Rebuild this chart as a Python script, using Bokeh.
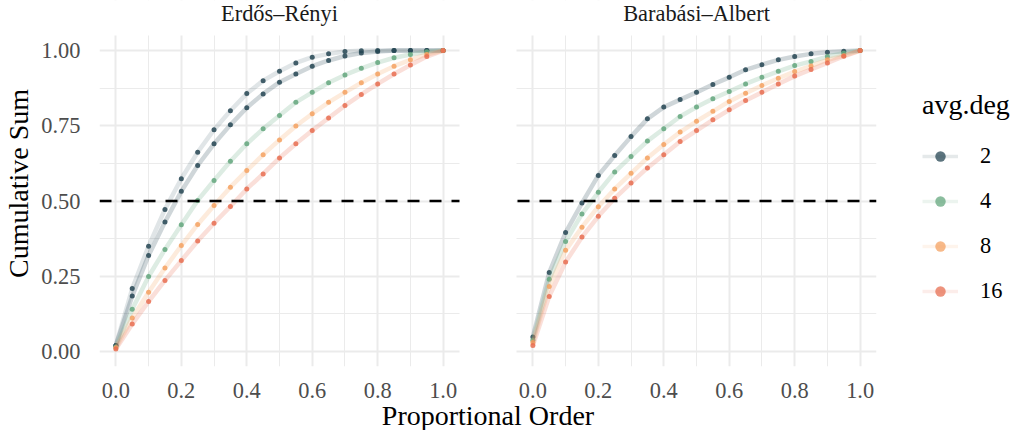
from bokeh.plotting import figure
from bokeh.models import (FixedTicker, PrintfTickFormatter, Span, Legend,
                          LegendItem, Label, Range1d, BoxAnnotation,
                          CustomJSTickFormatter)
from bokeh.layouts import row
from bokeh.embed import file_html
from bokeh.resources import INLINE

# ---------------- data ----------------
prop_order = [0.0, 0.05, 0.1, 0.15, 0.2, 0.25, 0.3, 0.35, 0.4, 0.45, 0.5,
              0.55, 0.6, 0.65, 0.7, 0.75, 0.8, 0.85, 0.9, 0.95, 1.0]

degrees = ["2", "4", "8", "16"]
colors = ["#264653", "#64A77E", "#F4A261", "#E76F51"]

# Erdős–Rényi
er_2 = [0.02, 0.184, 0.319, 0.43, 0.532, 0.618, 0.69, 0.753, 0.81, 0.856,
        0.895, 0.922, 0.948, 0.967, 0.982, 0.992, 0.997, 1.0, 1.0, 1.0, 1.0]
er_2_alt = [0.02, 0.209, 0.35, 0.472, 0.574, 0.662, 0.737, 0.80, 0.857, 0.90,
            0.931, 0.959, 0.978, 0.989, 0.997, 0.999, 1.0, 1.0, 1.0, 1.0, 1.0]
er_4 = [0.015, 0.14, 0.249, 0.339, 0.421, 0.502, 0.568, 0.632, 0.69, 0.74,
        0.784, 0.828, 0.861, 0.893, 0.919, 0.941, 0.96, 0.976, 0.987, 0.996, 1.0]
er_8 = [0.012, 0.111, 0.197, 0.277, 0.352, 0.422, 0.485, 0.546, 0.601, 0.654,
        0.703, 0.749, 0.79, 0.828, 0.861, 0.893, 0.922, 0.948, 0.969, 0.987, 1.0]
er_16 = [0.008, 0.091, 0.166, 0.236, 0.302, 0.367, 0.426, 0.482, 0.54, 0.59,
         0.643, 0.69, 0.734, 0.776, 0.817, 0.854, 0.889, 0.922, 0.952, 0.98, 1.0]

# Barabási–Albert
ba_2 = [0.048, 0.262, 0.395, 0.493, 0.585, 0.651, 0.714, 0.773, 0.812, 0.837,
        0.861, 0.887, 0.911, 0.936, 0.953, 0.969, 0.98, 0.989, 0.994, 0.998, 1.0]
ba_4 = [0.037, 0.24, 0.365, 0.457, 0.529, 0.596, 0.648, 0.699, 0.74, 0.781,
        0.812, 0.84, 0.864, 0.889, 0.911, 0.931, 0.95, 0.964, 0.98, 0.991, 1.0]
ba_8 = [0.03, 0.216, 0.336, 0.413, 0.481, 0.54, 0.592, 0.643, 0.688, 0.729,
        0.765, 0.798, 0.831, 0.858, 0.884, 0.908, 0.93, 0.949, 0.969, 0.983, 1.0]
ba_16 = [0.02, 0.183, 0.297, 0.38, 0.449, 0.509, 0.56, 0.61, 0.654, 0.698,
         0.734, 0.77, 0.803, 0.834, 0.861, 0.889, 0.915, 0.937, 0.959, 0.981, 1.0]

panel_titles = ["Erdős–Rényi", "Barabási–Albert"]
threshold = 0.5

x_ticks = [0.0, 0.2, 0.4, 0.6, 0.8, 1.0]
x_minor = [0.1, 0.3, 0.5, 0.7, 0.9]
y_ticks = [0.0, 0.25, 0.5, 0.75, 1.0]
y_minor = [0.125, 0.375, 0.625, 0.875]

FONT = "Liberation Serif"

# ---------------- geometry (pixels) ----------------
PANEL_PX = 360.0        # width of each facet panel
GAP_PX = 57.0           # gap between facet panels
PANEL_H_PX = 331.0      # height of facet panel
TOP_PX = 35.0           # strip area above the panels
LEFT_PX = 98
LO, HI = -0.05, 1.05    # expanded data limits of a facet
unit_x = PANEL_PX / (HI - LO)
unit_y = PANEL_H_PX / (HI - LO)
gap_u = GAP_PX / unit_x
shift = (HI - LO) + gap_u          # offset of facet 2 in facet-1 units
y_top = HI + TOP_PX / unit_y

p = figure(frame_width=int(2 * PANEL_PX + GAP_PX),
           frame_height=int(PANEL_H_PX + TOP_PX),
           min_border_left=LEFT_PX, min_border_right=5, min_border_top=0,
           min_border_bottom=64, output_backend="svg", toolbar_location=None,
           x_range=Range1d(LO, HI + shift), y_range=Range1d(LO, y_top),
           outline_line_color=None, background_fill_color="white",
           border_fill_color="white")
p.extra_x_ranges = {"ba": Range1d(LO - shift, HI)}

all_x_ticks = x_ticks + [t + shift for t in x_ticks]
all_x_minor = x_minor + [t + shift for t in x_minor]
p.xaxis.ticker = FixedTicker(ticks=all_x_ticks, minor_ticks=all_x_minor)
p.xgrid.ticker = FixedTicker(ticks=all_x_ticks, minor_ticks=all_x_minor)
p.yaxis.ticker = FixedTicker(ticks=y_ticks, minor_ticks=y_minor)
p.ygrid.ticker = FixedTicker(ticks=y_ticks, minor_ticks=y_minor)
p.xaxis.formatter = CustomJSTickFormatter(
    args=dict(off=shift, lim=HI),
    code="const v = tick > lim ? tick - off : tick; return v.toFixed(1);")
p.yaxis.formatter = PrintfTickFormatter(format="%.2f")

for ax in (p.xaxis, p.yaxis):
    ax.axis_line_color = None
    ax.major_tick_line_color = None
    ax.minor_tick_line_color = None
    ax.major_label_text_font = FONT
    ax.major_label_text_font_size = "22.4px"
    ax.major_label_text_color = "#4D4D4D"
    ax.major_label_text_line_height = 1.0
    ax.axis_label_text_font = FONT
    ax.axis_label_text_font_size = "28px"
    ax.axis_label_text_font_style = "normal"
    ax.axis_label_text_color = "black"
    ax.axis_label_text_line_height = 1.0
p.xaxis.major_label_standoff = 10
p.xaxis.axis_label = "Proportional Order"
p.xaxis.axis_label_standoff = -1
p.yaxis.major_label_standoff = 13
p.yaxis.axis_label = "Cumulative Sum"
p.yaxis.axis_label_standoff = 4

for g in (p.xgrid, p.ygrid):
    g.grid_line_color = "#EBEBEB"
    g.grid_line_width = 2
    g.minor_grid_line_color = "#EBEBEB"
    g.minor_grid_line_width = 1

# hide grid lines in the strip area above the panels
p.add_layout(BoxAnnotation(bottom=HI, fill_color="white", fill_alpha=1.0,
                           line_color=None, level="underlay"))

p.add_layout(Span(location=threshold, dimension="width",
                  line_color="black", line_dash="12 10", line_width=2.5))

er_series = [(degrees[0], colors[0], [er_2, er_2_alt]),
             (degrees[1], colors[1], [er_4]),
             (degrees[2], colors[2], [er_8]),
             (degrees[3], colors[3], [er_16])]
ba_series = [(degrees[0], colors[0], [ba_2]),
             (degrees[1], colors[1], [ba_4]),
             (degrees[2], colors[2], [ba_8]),
             (degrees[3], colors[3], [ba_16])]

LINE_W, LINE_A, PT_SIZE, PT_A = 4.5, 0.22, 5, 0.85

for series, rng in ((er_series, "default"), (ba_series, "ba")):
    for (label, color, ys_list) in series:
        for k, ys in enumerate(ys_list):
            p.line(prop_order, ys, line_color=color, line_width=LINE_W,
                   line_alpha=LINE_A if k == 0 else 0.14, x_range_name=rng)
            p.scatter(prop_order, ys, size=PT_SIZE, fill_color=color,
                      line_color=None, fill_alpha=PT_A, x_range_name=rng)

# blank gap between the two facets
p.add_layout(BoxAnnotation(left=HI, right=HI + gap_u, fill_color="white",
                           fill_alpha=1.0, line_color=None))

# facet strip titles
for title, rng in zip(panel_titles, ("default", "ba")):
    p.add_layout(Label(x=0.5, y=PANEL_H_PX + TOP_PX - 13, y_units="screen",
                       x_range_name=rng, text=title, text_align="center",
                       text_baseline="alphabetic", text_font=FONT,
                       text_font_size="22.4px", text_color="#1A1A1A"))

# ---------------- legend panel ----------------
MAIN_W = LEFT_PX + int(2 * PANEL_PX + GAP_PX) + 5
pl = figure(width=1013 - MAIN_W, height=430, output_backend="svg",
            toolbar_location=None, x_range=(5, 6), y_range=(5, 6),
            min_border=0, outline_line_color=None,
            x_axis_location=None, y_axis_location=None,
            background_fill_color="white", border_fill_color="white")
pl.grid.visible = False
items = []
for (label, color, ys_list) in ba_series:
    ln = pl.line(prop_order, ys_list[0], line_color=color,
                 line_width=3.5, line_alpha=0.12)
    sc = pl.scatter(prop_order, ys_list[0], size=4, fill_color=color,
                    line_color=None, fill_alpha=0.75)
    items.append(LegendItem(label=label, renderers=[ln, sc]))

legend = Legend(items=items, location=(921 - MAIN_W, 59),
                title="avg.deg",
                title_text_font=FONT, title_text_font_size="28px",
                title_text_font_style="normal", title_text_color="black",
                label_text_font=FONT, label_text_font_size="22.4px",
                label_text_color="black", border_line_color=None,
                background_fill_alpha=0, padding=0, margin=0, spacing=19,
                glyph_width=36, glyph_height=26, label_height=26,
                label_standoff=22, title_standoff=22)
pl.add_layout(legend)

layout = row(p, pl)
open("out.html", "w").write(file_html(layout, INLINE))
